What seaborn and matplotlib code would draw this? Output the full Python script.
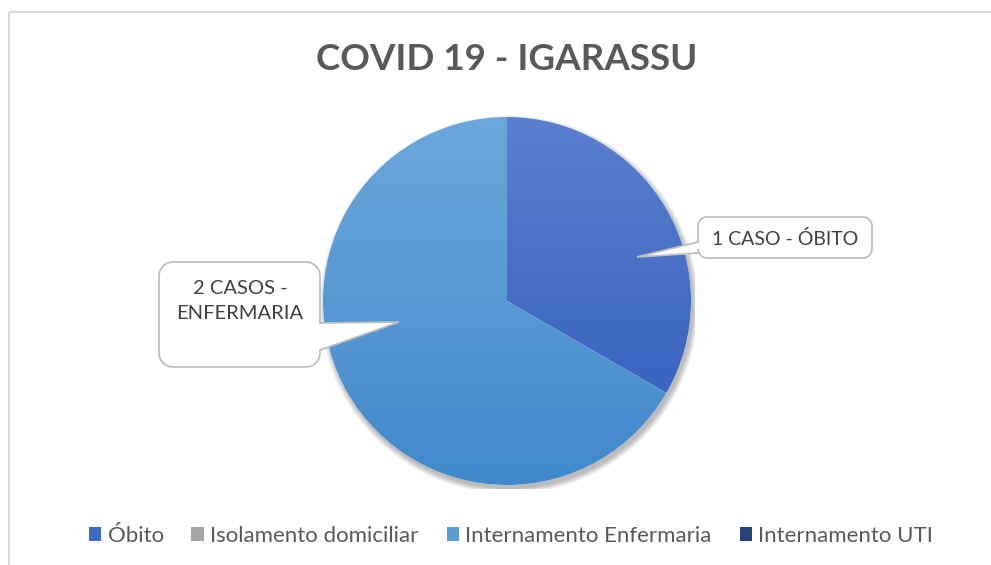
import numpy as np
import matplotlib
matplotlib.use("Agg")
import matplotlib.pyplot as plt
import seaborn as sns
from matplotlib.colors import LinearSegmentedColormap
from matplotlib.patches import Patch, Circle, PathPatch, Rectangle
from matplotlib.path import Path

# --------------------------------------------------------------
# Dados
# --------------------------------------------------------------
categorias = ["Óbito", "Isolamento domiciliar", "Internamento Enfermaria", "Internamento UTI"]
casos = [1, 0, 2, 0]
cores_legenda = ["#3F6BC5", "#A5A5A5", "#5B9BD5", "#264478"]
# gradiente (topo, base) de cada fatia
gradientes = [("#5B7FD0", "#2E5BB8"), ("#B5B5B5", "#8F8F8F"),
              ("#6DA7DC", "#4189CB"), ("#34589A", "#1F3A68")]
titulo = "COVID 19 - IGARASSU"
rotulos = {0: "1 CASO - ÓBITO", 2: "2 CASOS -\nENFERMARIA"}

sns.set_theme(style="white")
plt.rcParams["font.family"] = ["Lato", "DejaVu Sans"]

W, H = 991, 565
fig = plt.figure(figsize=(W / 100, H / 100), dpi=100)

# camada de fundo em pixels (borda)
bg = fig.add_axes([0, 0, 1, 1])
bg.set_xlim(0, W)
bg.set_ylim(H, 0)
bg.axis("off")
bg.add_patch(Rectangle((8.5, 11.5), 1200, 800, fill=False, ec="#D9D9D9", lw=1.5))

# --------------------------------------------------------------
# Pizza
# --------------------------------------------------------------
cx, cy, r = 507, 301, 184
s = 1.02
ax = fig.add_axes([(cx - r * s) / W, (H - cy - r * s) / H, 2 * r * s / W, 2 * r * s / H])
ax.set_aspect("equal")
ax.axis("off")

# sombra suave
for k in range(8):
    ax.add_patch(Circle((0.012, -0.02), 1.0 + k * 0.004, color="black",
                        alpha=0.035, lw=0, zorder=0))
ax.add_patch(Circle((0, 0), 1.0, color="white", lw=0, zorder=0.5))

wedges, _ = ax.pie(casos, startangle=90, counterclock=False, radius=1.0,
                   wedgeprops=dict(lw=0))
grad = np.linspace(0, 1, 256).reshape(-1, 1)
for w, (c_top, c_bot), v in zip(wedges, gradientes, casos):
    w.set_facecolor("none")
    if v == 0:
        continue
    cmap = LinearSegmentedColormap.from_list("g", [c_top, c_bot])
    im = ax.imshow(grad, extent=[-1, 1, -1, 1], cmap=cmap, origin="upper",
                   aspect="auto", zorder=1, interpolation="bilinear")
    im.set_clip_path(w)
ax.set_xlim(-s, s)
ax.set_ylim(-s, s)

# --------------------------------------------------------------
# Callouts
# --------------------------------------------------------------
def callout(x0, y0, x1, y1, lado, b0, b1, tip, rad=9):
    # retangulo arredondado com ponteiro (coordenadas em pixel)
    k = 0.55
    verts, codes = [], []
    def mv(p):
        verts.append(p); codes.append(Path.MOVETO)
    def ln(p):
        verts.append(p); codes.append(Path.LINETO)
    def cv(c1, c2, p):
        verts.extend([c1, c2, p]); codes.extend([Path.CURVE4] * 3)
    mv((x0 + rad, y0))
    ln((x1 - rad, y0))
    cv((x1 - rad + k * rad, y0), (x1, y0 + rad - k * rad), (x1, y0 + rad))
    if lado == "right":
        ln((x1, b0)); ln(tip); ln((x1, b1))
    ln((x1, y1 - rad))
    cv((x1, y1 - rad + k * rad), (x1 - rad + k * rad, y1), (x1 - rad, y1))
    ln((x0 + rad, y1))
    cv((x0 + rad - k * rad, y1), (x0, y1 - rad + k * rad), (x0, y1 - rad))
    if lado == "left":
        ln((x0, b1)); ln(tip); ln((x0, b0))
    ln((x0, y0 + rad))
    cv((x0, y0 + rad - k * rad), (x0 + rad - k * rad, y0), (x0 + rad, y0))
    verts.append((x0 + rad, y0)); codes.append(Path.CLOSEPOLY)
    return PathPatch(Path(verts, codes), fc="white", ec="#BFBFBF", lw=1.3, zorder=5)

bg2 = fig.add_axes([0, 0, 1, 1])
bg2.set_xlim(0, W)
bg2.set_ylim(H, 0)
bg2.axis("off")
bg2.patch.set_alpha(0)

bg2.add_patch(callout(698, 217, 872, 258, "left", 242, 253, (637, 257)))
bg2.text(785, 239, rotulos[0], ha="center", va="center", fontsize=14,
         color="#404040", zorder=6)
bg2.add_patch(callout(159, 262, 320, 367, "right", 323, 350, (399, 322), rad=14))
bg2.text(240, 301, rotulos[2], ha="center", va="center", fontsize=14.5,
         color="#404040", linespacing=1.55, zorder=6)

# --------------------------------------------------------------
# Titulo e legenda
# --------------------------------------------------------------
fig.text(507 / W, 1 - 60 / H, titulo, ha="center", va="center",
         fontsize=26.5, fontweight="bold", color="#595959")

handles = [Patch(facecolor=c, edgecolor="none") for c in cores_legenda]
leg = fig.legend(handles, categorias, loc="center", ncol=4,
                 bbox_to_anchor=(511 / W, 1 - 536 / H), frameon=False,
                 fontsize=16, handlelength=0.55, handleheight=0.55,
                 handletextpad=0.3, columnspacing=1.25, labelcolor="#595959")

fig.savefig("out.png", dpi=100)
